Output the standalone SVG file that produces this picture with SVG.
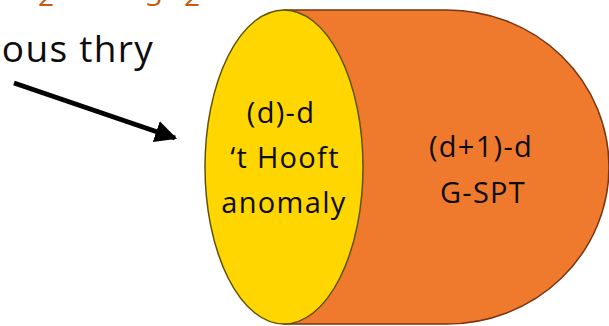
<svg xmlns="http://www.w3.org/2000/svg" width="609" height="326" viewBox="0 0 609 326">
  <style>
    .lbl { font-family: "Open Sans", "Liberation Sans", sans-serif; font-size: 29px; font-weight: 500; letter-spacing: 1.3px; fill: #0d0d0d; text-anchor: middle; }
    .head { font-family: "Open Sans", "Liberation Sans", sans-serif; font-size: 37px; font-weight: 500; letter-spacing: 1.3px; fill: #0d0d0d; }
    .top { font-family: "Open Sans", "Liberation Sans", sans-serif; font-size: 28px; font-weight: 500; fill: #C55A11; }
  </style>
  <defs>
    <marker id="arrowhead" viewBox="0 0 10 10" refX="9" refY="5" markerWidth="4.4" markerHeight="4.4" orient="auto" markerUnits="strokeWidth">
      <path d="M0,0 L10,5 L0,10 Z" fill="#000"/>
    </marker>
  </defs>
  <rect width="609" height="326" fill="#fff"/>

  <!-- title line, running off the top edge -->
  <text class="top" x="38" y="6">2 ·</text>
  <text class="top" x="146" y="6">3 · 2</text>

  <!-- caption, running off the left edge -->
  <text class="head" x="154" y="62" text-anchor="end">ous thry</text>

  <g id="connectors">
    <line x1="14" y1="83" x2="175" y2="138" stroke="#000" stroke-width="5" marker-end="url(#arrowhead)"/>
  </g>

  <!-- bulk: (d+1)-d G-SPT -->
  <g id="bulk">
    <path d="M284,10 L447,10 A162,157 0 0 1 447,324 L284,324 Z" fill="#EF7A2E" stroke="#7A3410" stroke-width="1.5"/>
    <text class="lbl" x="481" y="157">(d+1)-d</text>
    <text class="lbl" x="483" y="203">G-SPT</text>
  </g>

  <!-- boundary: (d)-d 't Hooft anomaly -->
  <g id="boundary">
    <ellipse cx="284" cy="167" rx="79" ry="157" fill="#FFD600" stroke="#5F5200" stroke-width="1.5"/>
    <text class="lbl" x="281" y="123">(d)-d</text>
    <text class="lbl" x="285" y="168">‘t Hooft</text>
    <text class="lbl" x="284" y="213">anomaly</text>
  </g>
</svg>
